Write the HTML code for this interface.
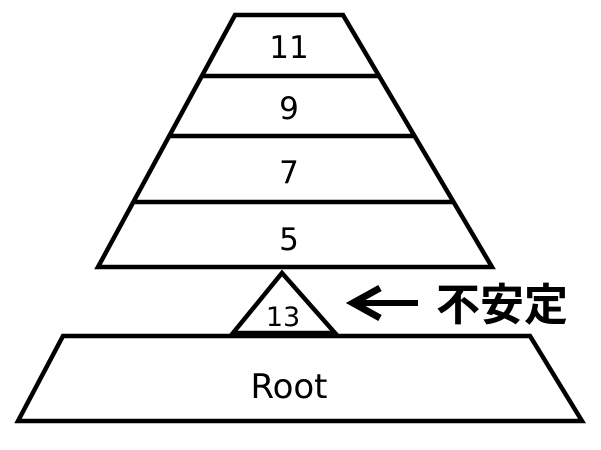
<!DOCTYPE html>
<html><head><meta charset="utf-8"><style>body{margin:0;background:#fff}svg{display:block}</style></head>
<body>
<svg width="601" height="450" viewBox="0 0 601 450" xmlns="http://www.w3.org/2000/svg">
<g fill="none" stroke="#000" stroke-width="4.5" stroke-linejoin="miter">
<polygon points="235,15 343,15 492,267 98,267"/>
<line x1="202" y1="76" x2="379" y2="76"/>
<line x1="169" y1="136" x2="415" y2="136"/>
<line x1="133" y1="202" x2="454" y2="202"/>
<polygon points="282,273 335,333 233,333"/>
<polygon points="63,336 530,336 582,421 18,421"/>
<line x1="360" y1="303" x2="418" y2="303" stroke-width="6"/>
<polyline points="380,288 353,303 380,318" stroke-width="7" stroke-linejoin="miter"/>
</g>
<g font-family="'DejaVu Sans','Liberation Sans',sans-serif" font-size="31" text-anchor="middle" fill="#000">
<text x="289" y="58">11</text>
<text x="289" y="119">9</text>
<text x="289" y="183">7</text>
<text x="289" y="250">5</text>
<text x="283" y="326" font-size="27">13</text>
<text x="289" y="398" font-size="34">Root</text>
</g>
<text x="502" y="320" font-family="'Liberation Sans','Noto Sans CJK JP',sans-serif" font-weight="bold" font-size="44" text-anchor="middle">不安定</text>
</svg>
</body></html>
